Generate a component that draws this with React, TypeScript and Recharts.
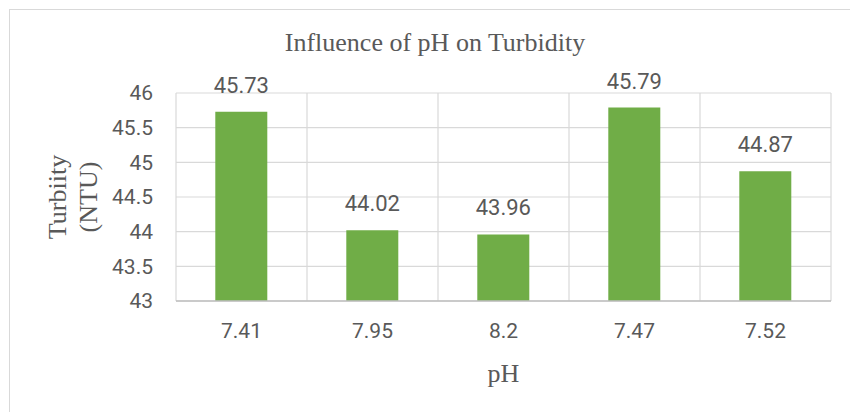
import React from 'react';
import { BarChart, Bar, XAxis, YAxis, CartesianGrid, LabelList } from 'recharts';

const phLabels = ['7.41', '7.95', '8.2', '7.47', '7.52'];
const turbidity = [45.73, 44.02, 43.96, 45.79, 44.87];
const yTicks = [43, 43.5, 44, 44.5, 45, 45.5, 46];
const chartTitle = 'Influence of pH on Turbidity';
const yLabelLines = ['Turbiity', '(NTU)'];
const xLabel = 'pH';

const data = phLabels.map((ph, i) => ({ ph, turbidity: turbidity[i] }));

const SERIF = '"Liberation Serif", "Times New Roman", serif';
const SANS = 'Roboto, "Noto Sans", sans-serif';
const TEXT = '#595959';
const GRID = '#d9d9d9';

function YLabel(props: any) {
  const vb = props.viewBox || { x: 0, y: 93, width: 176, height: 208 };
  const cy = vb.y + vb.height / 2;
  const x1 = vb.x + 66;
  return (
    <text
      transform={`rotate(-90, ${x1}, ${cy})`}
      x={x1}
      y={cy}
      textAnchor="middle"
      fill={TEXT}
      fontFamily={SERIF}
      fontSize={26}
    >
      <tspan x={x1} dy={0}>{yLabelLines[0]}</tspan>
      <tspan x={x1} dy={31}>{yLabelLines[1]}</tspan>
    </text>
  );
}

export default function App() {
  return (
    <div style={{ position: 'absolute', left: 0, top: 0, width: 850, height: 412, overflow: 'hidden', background: '#fff' }}>
      <div style={{ position: 'absolute', left: 9, top: 9, width: 900, height: 500, border: `1px solid ${GRID}` }} />
      <div style={{ position: 'absolute', left: 0, top: 0 }}>
        <BarChart
          width={850}
          height={412}
          data={data}
          margin={{ top: 93, right: 19, bottom: 0, left: 0 }}
          barCategoryGap="30%"
        >
          <CartesianGrid
            stroke={GRID}
            strokeWidth={1.2}
            verticalCoordinatesGenerator={({ offset }: any) =>
              Array.from({ length: phLabels.length + 1 }, (_, i) => offset.left + (i * offset.width) / phLabels.length)
            }
          />
          <XAxis
            dataKey="ph"
            height={111}
            tickLine={false}
            tickSize={0}
            tickMargin={22}
            axisLine={{ stroke: '#bfbfbf', strokeWidth: 1.5 }}
            tick={{ fill: TEXT, fontSize: 21, fontFamily: SANS }}
            label={{ value: xLabel, position: 'insideBottom', offset: 30, fill: TEXT, fontFamily: SERIF, fontSize: 26 }}
          />
          <YAxis
            width={176}
            domain={[43, 46]}
            ticks={yTicks}
            interval={0}
            axisLine={false}
            tickLine={false}
            tickSize={0}
            tickMargin={23}
            tick={{ fill: TEXT, fontSize: 21, fontFamily: SANS }}
            label={(p: any) => <YLabel {...p} />}
          />
          <Bar dataKey="turbidity" fill="#70AD47" isAnimationActive={false}>
            <LabelList dataKey="turbidity" position="top" offset={19} fill={TEXT} fontSize={22} fontFamily={SANS} />
          </Bar>
        </BarChart>
      </div>
      <div
        style={{
          position: 'absolute',
          left: 0,
          top: 30,
          width: 870,
          textAlign: 'center',
          fontFamily: SERIF,
          fontSize: 26,
          lineHeight: '26px',
          color: TEXT,
          whiteSpace: 'nowrap',
        }}
      >
        {chartTitle}
      </div>
    </div>
  );
}
